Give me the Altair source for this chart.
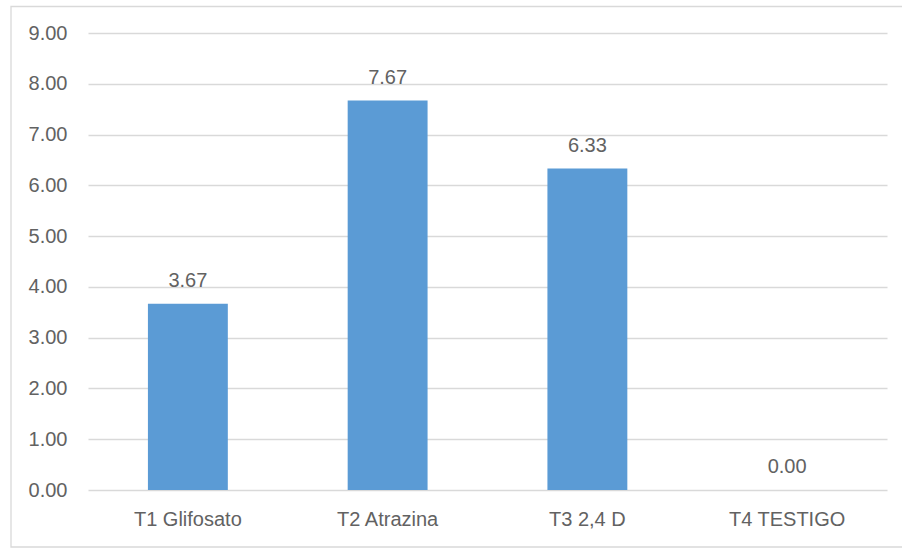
import altair as alt
import pandas as pd

categories = ["T1 Glifosato", "T2 Atrazina", "T3 2,4 D", "T4 TESTIGO"]
values = [3.67, 7.67, 6.33, 0.00]
y_ticks = [0, 1, 2, 3, 4, 5, 6, 7, 8, 9]

df = pd.DataFrame({"cat": categories, "val": values})
df["lab"] = [f"{v:.2f}" for v in values]

FONT = "Liberation Sans"
GRAY = "#626262"
FS = 20

x_enc = alt.X("cat:N", sort=categories, title=None,
              scale=alt.Scale(paddingInner=0.6, paddingOuter=0.3),
              axis=alt.Axis(labelAngle=0, labelFont=FONT, labelFontSize=FS,
                            labelColor=GRAY, ticks=False, domain=False,
                            labelPadding=19))
y_enc = alt.Y("val:Q", title=None,
              scale=alt.Scale(domain=[0, 9], nice=False),
              axis=alt.Axis(values=y_ticks, format=".2f", labelFont=FONT,
                            labelFontSize=FS, labelColor=GRAY, ticks=False,
                            domain=False, grid=True, gridColor="#d9d9d9",
                            gridWidth=1.3, labelPadding=21))

bars = alt.Chart(df).mark_bar(color="#5B9BD5").encode(x=x_enc, y=y_enc)

labels = alt.Chart(df).mark_text(font=FONT, fontSize=FS, color=GRAY,
                                 baseline="alphabetic", dy=-17).encode(
    x=alt.X("cat:N", sort=categories), y="val:Q", text="lab:N")

border = alt.Chart(pd.DataFrame({"a": [0]})).mark_rect(
    fill=None, stroke="#d9d9d9", strokeWidth=1.3, clip=False).encode(
    x=alt.value(-77), x2=alt.value(830), y=alt.value(-26.5), y2=alt.value(514))

chart = alt.layer(border, bars, labels).properties(
    width=799, height=457,
    padding={"left": 88, "top": 33, "right": 15, "bottom": 58},
    autosize=alt.AutoSizeParams(type="none"),
    background="white",
).configure_view(stroke=None)

chart.save("out.html", embed_options={"renderer": "svg", "actions": False})
